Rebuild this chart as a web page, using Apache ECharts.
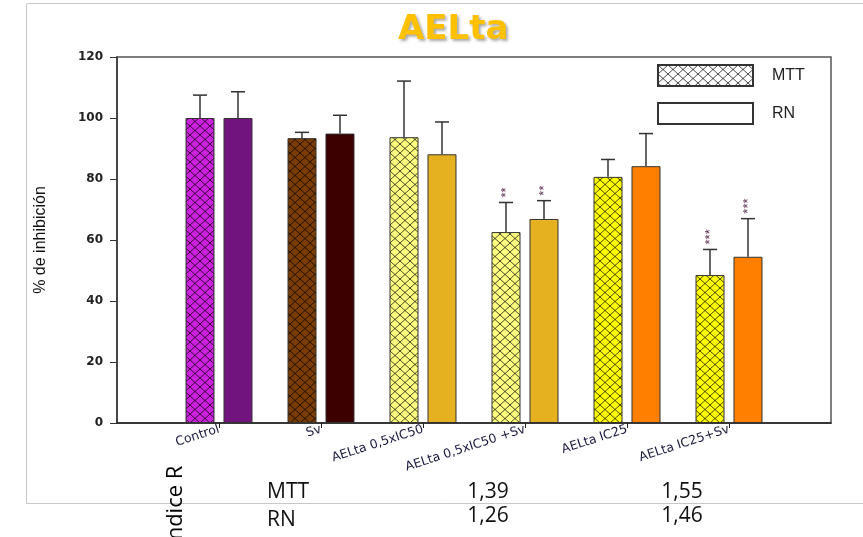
<!DOCTYPE html>
<html><head><meta charset="utf-8">
<script src="https://cdn.jsdelivr.net/npm/echarts@6/dist/echarts.min.js"></script>
<style>html,body{margin:0;padding:0;background:#fff}#c{width:863px;height:537px}</style>
</head><body><div id="c"></div>
<script>
// ---- data ----
const categories = ['', 'Control', 'Sv', 'AELta 0,5xIC50', 'AELta 0,5xIC50 +Sv', 'AELta IC25', 'AELta IC25+Sv', ''];
const mttValues = [null, 100, 93.4, 93.7, 62.6, 80.7, 48.5, null];
const mttErrors = [null, 7.5, 1.9, 18.4, 9.7, 5.7, 8.4, null];
const rnValues  = [null, 100, 94.9, 88.1, 66.9, 84.2, 54.5, null];
const rnErrors  = [null, 8.6, 6.0, 10.6, 6.0, 10.7, 12.5, null];
const mttSignif = ['', '', '', '', '**', '', '***', ''];
const rnSignif  = ['', '', '', '', '**', '', '***', ''];
const yMin = 0, yMax = 120, yStep = 20;
const indexRowLabels = ['MTT', 'RN'];
const indexMtt = ['1,39', '1,55'];
const indexRn  = ['1,26', '1,46'];
const indexTitle = 'ndice R';

// ---- styles ----
const mttColors = [null, '#cc22dd', '#7a3c00', '#ffff80', '#ffff80', '#ffff00', '#ffff00', null];
const rnColors  = [null, '#72147e', '#3c0000', '#e5b120', '#e5b120', '#ff8000', '#ff8000', null];

function hatch(bg) {
  const c = document.createElement('canvas');
  c.width = 10; c.height = 9;
  const g = c.getContext('2d');
  g.fillStyle = bg; g.fillRect(0, 0, 10, 9);
  g.strokeStyle = 'rgba(0,0,0,0.7)'; g.lineWidth = 1;
  g.beginPath(); g.moveTo(0, 0); g.lineTo(10, 9); g.moveTo(10, 0); g.lineTo(0, 9); g.stroke();
  return { image: c, repeat: 'repeat' };
}

function errorSeries(name, values, errors, signif, offset) {
  const data = [];
  values.forEach((v, i) => { if (v != null) data.push([i, v, v + errors[i]]); });
  return {
    type: 'custom', name: name, z: 5, silent: true,
    data: data,
    renderItem(params, api) {
      const i = api.value(0);
      const base = api.coord([i, api.value(1)]);
      const top = api.coord([i, api.value(2)]);
      const x = base[0] + offset;
      const children = [
        { type: 'line', shape: { x1: x, y1: base[1], x2: x, y2: top[1] }, style: { stroke: '#333', lineWidth: 1.5 } },
        { type: 'line', shape: { x1: x - 7, y1: top[1], x2: x + 7, y2: top[1] }, style: { stroke: '#333', lineWidth: 1.5 } }
      ];
      const s = signif[i];
      if (s) {
        children.push({ type: 'text', x: x, y: top[1] - 5, rotation: Math.PI / 2,
          style: { text: s, fill: '#5a2a50', font: '13px "Liberation Sans"', align: 'left', verticalAlign: 'middle' } });
      }
      return { type: 'group', children: children };
    }
  };
}

const chart = echarts.init(document.getElementById('c'), null, { renderer: 'canvas' });

const graphics = [
  { type: 'rect', shape: { x: 26.5, y: 3.5, width: 900, height: 500 }, style: { fill: 'none', stroke: '#c8c8c8', lineWidth: 1 }, z: -1 },
  { type: 'text', x: 176, y: 503, rotation: Math.PI / 2,
    style: { text: indexTitle, font: '22px "Open Sans"', fill: '#000', align: 'center', verticalAlign: 'middle' } },
  { type: 'text', x: 267, y: 492, style: { text: indexRowLabels[0], font: '21px "Open Sans"', fill: '#111', align: 'left', verticalAlign: 'middle' } },
  { type: 'text', x: 267, y: 520, style: { text: indexRowLabels[1], font: '21px "Open Sans"', fill: '#111', align: 'left', verticalAlign: 'middle' } },
  { type: 'text', x: 488, y: 492, style: { text: indexMtt[0], font: '21px "Open Sans"', fill: '#111', align: 'center', verticalAlign: 'middle' } },
  { type: 'text', x: 682, y: 492, style: { text: indexMtt[1], font: '21px "Open Sans"', fill: '#111', align: 'center', verticalAlign: 'middle' } },
  { type: 'text', x: 488, y: 516, style: { text: indexRn[0], font: '21px "Open Sans"', fill: '#111', align: 'center', verticalAlign: 'middle' } },
  { type: 'text', x: 682, y: 516, style: { text: indexRn[1], font: '21px "Open Sans"', fill: '#111', align: 'center', verticalAlign: 'middle' } }
];

chart.setOption({
  animation: false,
  backgroundColor: '#fff',
  title: {
    text: 'AELta', left: 393, top: 8,
    textStyle: { color: '#ffc000', fontSize: 34, fontWeight: 'bold', fontFamily: 'DejaVu Sans',
      textShadowColor: 'rgba(0,0,0,0.35)', textShadowBlur: 3, textShadowOffsetX: 2, textShadowOffsetY: 2 }
  },
  legend: {
    data: ['MTT', 'RN'], orient: 'vertical', left: 652, top: 59,
    itemWidth: 95, itemHeight: 21, itemGap: 15, icon: 'rect', selectedMode: false,
    textStyle: { fontSize: 16, color: '#222', fontFamily: 'Liberation Sans', padding: [0, 0, 0, 14] }
  },
  grid: { left: 117, right: 32, top: 57, bottom: 114, show: true, borderColor: '#555', borderWidth: 1.5, backgroundColor: 'transparent' },
  xAxis: {
    type: 'category', data: categories, boundaryGap: false,
    axisLine: { lineStyle: { color: '#222', width: 1.5 } },
    axisTick: { interval: (idx) => idx > 0 && idx < categories.length - 1, length: 5, lineStyle: { color: '#222' } },
    axisLabel: { interval: 0, rotate: 18, fontSize: 12.5, fontFamily: 'DejaVu Sans', color: '#1a1a40', margin: 6 },
    splitLine: { show: false }
  },
  yAxis: {
    type: 'value', min: yMin, max: yMax, interval: yStep,
    name: '% de inhibición', nameLocation: 'middle', nameGap: 68, nameRotate: 90,
    nameTextStyle: { fontSize: 16, fontFamily: 'Liberation Sans', color: '#111' },
    axisLine: { show: true, lineStyle: { color: '#333', width: 1.5 } },
    axisTick: { show: true, length: 7, lineStyle: { color: '#333' } },
    axisLabel: { fontSize: 12, fontWeight: 'bold', fontFamily: 'DejaVu Sans', color: '#222', margin: 14 },
    splitLine: { show: false }
  },
  series: [
    {
      type: 'bar', name: 'MTT', barWidth: 29, barGap: '31%',
      itemStyle: { color: hatch('#ffffff'), borderColor: '#333', borderWidth: 1 },
      data: mttValues.map((v, i) => v == null ? null : { value: v, itemStyle: { color: hatch(mttColors[i]) } })
    },
    {
      type: 'bar', name: 'RN', barWidth: 29,
      itemStyle: { color: '#ffffff', borderColor: '#333', borderWidth: 1 },
      data: rnValues.map((v, i) => v == null ? null : { value: v, itemStyle: { color: rnColors[i] } })
    },
    errorSeries('MTT error', mttValues, mttErrors, mttSignif, -19),
    errorSeries('RN error', rnValues, rnErrors, rnSignif, 19)
  ],
  graphic: graphics
});
</script>
</body></html>
